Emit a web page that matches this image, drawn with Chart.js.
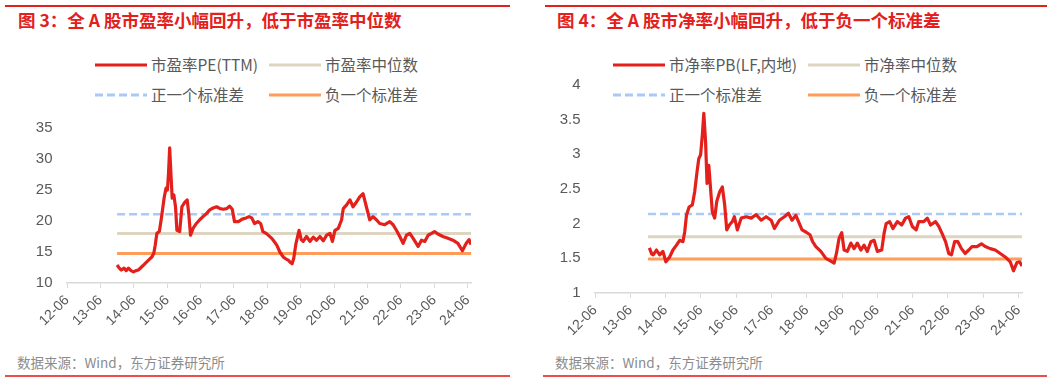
<!DOCTYPE html>
<html>
<head>
<meta charset="utf-8">
<script src="https://cdn.jsdelivr.net/npm/chart.js@4.4.1/dist/chart.umd.min.js"></script>
<style>
  html, body { margin:0; padding:0; background:#fff; }
  body { width:1061px; height:382px; position:relative; overflow:hidden; font-family:"Noto Sans CJK SC","Noto Sans",sans-serif; }
  .abs { position:absolute; white-space:nowrap; }
  .title { color:#e3201b; font-weight:bold; font-size:17.5px; line-height:20px; }
  .leg { color:#595959; font-size:15.5px; line-height:20px; }
  .src { color:#8c8c8c; font-size:13.5px; line-height:18px; }
  canvas { position:absolute; top:0; }
</style>
</head>
<body>
<script>
// ---------- DATA ----------
// x positions are months since 2012-06
const xTickValues = [0,12,24,36,48,60,72,84,96,108,120,132,144];
const xTickLabels = ['12-06','13-06','14-06','15-06','16-06','17-06','18-06','19-06','20-06','21-06','22-06','23-06','24-06'];

const peTicks = [10,15,20,25,30,35];
const pbTicks = [1,1.5,2,2.5,3,3.5,4];

const peMonths = [18.0,18.8,19.5,20.5,21.3,22.1,23.0,23.9,24.8,25.7,26.6,27.5,28.4,29.3,30.5,31.2,31.7,32.3,33.2,34.1,34.9,35.6,36.1,36.5,36.9,37.4,37.8,38.4,39.0,39.5,40.5,41.3,42.3,43.2,43.8,44.4,45.3,46.5,47.7,48.9,50.1,51.3,52.5,53.8,55.0,56.2,57.4,58.4,59.4,60.2,61.6,63.0,64.4,65.4,66.4,67.4,68.6,69.6,70.4,71.6,72.6,73.6,74.6,75.4,76.5,77.7,78.6,79.5,80.3,80.9,81.5,82.3,83.4,84.2,84.9,86.1,87.3,88.5,89.7,90.9,92.1,93.3,94.5,95.4,96.3,97.5,98.7,99.3,100.5,101.7,102.8,104.1,105.2,106.4,107.6,108.8,110.0,111.2,112.4,114.2,116.0,117.2,118.4,119.6,120.8,122.0,123.2,124.4,126.2,127.4,128.6,129.8,131.0,132.1,133.3,135.1,136.9,138.7,140.5,142.1,143.5,144.5,145.2];
const peValues = [12.9,12.4,12.1,12.4,12.0,12.4,12.0,11.8,12.0,12.1,12.5,12.9,13.3,13.7,14.2,14.8,16.1,18.0,18.3,21.0,23.7,25.3,25.0,27.8,31.8,27.2,23.7,24.2,22.3,18.5,18.3,22.3,23.0,23.4,21.0,17.7,18.8,19.6,20.2,20.7,21.2,21.8,22.1,22.3,22.0,21.9,22.0,22.4,21.9,19.9,19.9,20.3,20.5,20.7,20.5,19.6,19.9,19.6,18.3,18.0,17.6,17.2,16.6,16.1,15.0,14.2,13.9,13.7,13.3,13.1,14.0,16.4,18.5,17.0,16.7,17.5,16.7,17.4,16.9,17.5,16.8,17.7,18.0,16.7,18.5,18.8,20.2,22.0,22.6,23.4,22.3,23.1,23.9,24.4,22.3,20.2,20.7,20.2,19.6,19.4,19.9,19.4,18.5,17.5,16.4,17.7,18.0,17.2,15.9,16.9,16.7,17.7,18.0,18.3,17.9,17.5,17.2,16.9,16.4,15.2,16.4,17.0,16.2];
const peMedian = 18.0, pePlusSd = 21.1, peMinusSd = 14.75;

const pbMonths = [18.5,19.3,19.8,20.9,22.0,23.1,24.1,25.4,26.5,27.7,28.8,29.9,30.5,31.1,32.0,33.1,33.9,34.7,35.3,35.9,36.5,37.0,37.6,38.1,38.7,39.2,39.9,40.7,41.4,42.4,43.3,44.1,44.8,45.7,46.7,47.4,48.4,49.7,51.4,53.1,54.8,56.5,58.2,59.9,61.0,62.7,64.4,65.8,67.0,68.3,69.5,70.4,71.7,73.1,74.0,75.1,76.8,78.5,80.2,81.3,82.1,83.0,83.9,84.7,85.8,87.0,88.1,89.2,90.4,91.5,92.6,93.8,94.9,96.0,97.5,98.3,99.0,100.2,101.3,102.8,104.3,105.6,106.7,107.9,109.2,110.1,111.8,113.0,114.1,115.8,116.9,118.0,119.2,120.3,121.2,122.3,123.4,124.6,125.9,127.1,128.2,129.9,131.4,132.7,134.4,136.1,137.8,139.5,141.2,142.3,143.5,144.4,145.2];
const pbValues = [1.65,1.56,1.55,1.62,1.55,1.60,1.45,1.52,1.62,1.69,1.76,1.74,1.88,2.12,2.24,2.27,2.46,2.75,2.94,2.99,3.28,3.59,3.18,2.58,2.84,2.56,2.17,2.08,2.32,2.46,2.53,2.27,1.91,1.98,2.03,2.10,1.91,2.08,2.10,2.08,2.13,2.05,2.10,2.05,1.93,2.05,2.10,2.15,2.05,2.12,2.00,1.91,1.88,1.84,1.74,1.67,1.60,1.50,1.46,1.43,1.57,1.79,1.87,1.62,1.60,1.72,1.64,1.72,1.62,1.69,1.60,1.74,1.76,1.60,1.62,1.86,2.00,2.03,1.93,2.03,1.98,2.08,2.10,1.96,1.91,2.03,2.03,2.08,1.98,2.03,1.96,1.86,1.74,1.57,1.55,1.74,1.74,1.64,1.57,1.62,1.67,1.67,1.71,1.67,1.64,1.62,1.57,1.52,1.45,1.32,1.44,1.45,1.39];
const pbMedian = 1.81, pbPlusSd = 2.14, pbMinusSd = 1.49;

const seriesStart = 18.0, seriesEnd = 145.2;

const panels = [
  { left:0, width:530, title:'图 3：全 A 股市盈率小幅回升，低于市盈率中位数', titleX:18,
    ruleTop:[5,510], ruleBot:[5,510], srcX:17,
    names:['市盈率PE(TTM)','市盈率中位数','正一个标准差','负一个标准差'],
    legX:[95,269], legTextX:[151,325],
    months:peMonths, values:peValues, med:peMedian, plus:pePlusSd, minus:peMinusSd,
    yTicks:peTicks, pad:{left:0, top:128, right:59, bottom:49}, yW:67 },
  { left:530, width:531, title:'图 4：全 A 股市净率小幅回升，低于负一个标准差', titleX:27,
    ruleTop:[15,517], ruleBot:[13,517], srcX:25,
    names:['市净率PB(LF,内地)','市净率中位数','正一个标准差','负一个标准差'],
    legX:[83,278], legTextX:[139,334],
    months:pbMonths, values:pbValues, med:pbMedian, plus:pbPlusSd, minus:pbMinusSd,
    yTicks:pbTicks, pad:{left:0, top:85, right:39, bottom:39}, yW:65 }
];

const colors = ['#e3201b','#ddd5bf','#a9c9f7','#ff9c5a'];
const dashes = [null,null,'8 4',null];

Chart.defaults.font.family = "'Liberation Sans', Arial, sans-serif";
Chart.defaults.color = '#595959';

function addEl(html, style, cls){
  const d = document.createElement('div');
  d.className = 'abs ' + (cls||'');
  d.innerHTML = html;
  Object.assign(d.style, style);
  document.body.appendChild(d);
  return d;
}

panels.forEach(p => {
  addEl('', {left:(p.left+p.ruleTop[0])+'px', top:'5px', width:(p.ruleTop[1]-p.ruleTop[0])+'px', height:'1.5px', background:'#e3201b'});
  addEl('', {left:(p.left+p.ruleBot[0])+'px', top:'375px', width:(p.ruleBot[1]-p.ruleBot[0])+'px', height:'1.5px', background:'#ee4b4b'});
  addEl(p.title, {left:(p.left+p.titleX)+'px', top:'10px'}, 'title');
  addEl('数据来源：Wind，东方证券研究所', {left:(p.left+p.srcX)+'px', top:'353px'}, 'src');

  const rows = [54, 84];
  for (let i=0;i<4;i++){
    const r = Math.floor(i/2), c = i%2;
    const dash = dashes[i] ? ` stroke-dasharray="${dashes[i]}"` : '';
    addEl(`<svg width="52" height="6"><line x1="0" y1="3" x2="52" y2="3" stroke="${colors[i]}" stroke-width="3"${dash}/></svg>`,
      {left:(p.left+p.legX[c])+'px', top:(rows[r]+7)+'px', lineHeight:'0'});
    addEl(p.names[i], {left:(p.left+p.legTextX[c])+'px', top:rows[r]+'px'}, 'leg');
  }

  const cv = document.createElement('canvas');
  cv.width = p.width; cv.height = 382;
  cv.style.left = p.left + 'px';
  document.body.appendChild(cv);

  const mainData = p.months.map((m,i)=>({x:m, y:p.values[i]}));
  const flat = v => [{x:seriesStart, y:v},{x:seriesEnd, y:v}];

  new Chart(cv, {
    type:'line',
    data:{ datasets:[
      {label:p.names[0], data:mainData, borderColor:colors[0], borderWidth:3.2, pointRadius:0, tension:0, borderJoinStyle:'round'},
      {label:p.names[1], data:flat(p.med), borderColor:colors[1], borderWidth:3, pointRadius:0},
      {label:p.names[2], data:flat(p.plus), borderColor:colors[2], borderWidth:2.5, borderDash:[8,4], pointRadius:0},
      {label:p.names[3], data:flat(p.minus), borderColor:colors[3], borderWidth:3, pointRadius:0}
    ]},
    options:{
      responsive:false, maintainAspectRatio:false, animation:false,
      layout:{ padding:p.pad },
      plugins:{ legend:{display:false}, tooltip:{enabled:false} },
      scales:{
        x:{ type:'linear', min:0, max:seriesEnd,
          afterBuildTicks: s => { s.ticks = xTickValues.map(v=>({value:v})); },
          afterFit: s => { s.height = 50; s.paddingLeft = 0; s.paddingRight = 0; },
          grid:{ drawOnChartArea:false, drawTicks:true, tickLength:5, color:'#d9d9d9', lineWidth:1 },
          border:{ display:true, color:'#d9d9d9', width:1.5 },
          ticks:{ autoSkip:false, maxRotation:45, minRotation:45, padding:4, color:'#595959', font:{size:14},
            callback:(v,i)=> xTickLabels[i] }
        },
        y:{ min:p.yTicks[0], max:p.yTicks[p.yTicks.length-1],
          afterBuildTicks: s => { s.ticks = p.yTicks.map(v=>({value:v})); },
          afterFit: s => { s.width = p.yW; s.paddingTop = 0; s.paddingBottom = 0; },
          grid:{ display:false, drawTicks:false },
          border:{ display:false },
          ticks:{ padding:14.5, color:'#595959', font:{size:15}, callback: v => String(v) }
        }
      }
    }
  });
});
</script>
</body>
</html>
